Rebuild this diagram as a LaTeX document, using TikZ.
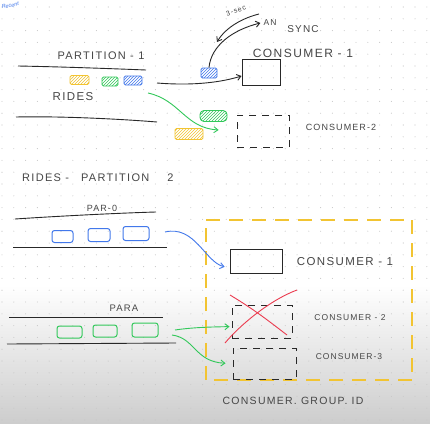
\documentclass[tikz,border=0pt]{standalone}
\usepackage{fontspec}
\setmainfont{Liberation Sans}
\newfontfamily\handfont[LetterSpace=12]{Liberation Sans}
\usetikzlibrary{arrows.meta,patterns}
\definecolor{ink}{RGB}{40,40,40}
\definecolor{textink}{RGB}{70,70,70}
\definecolor{gblue}{RGB}{66,120,235}
\definecolor{ggreen}{RGB}{50,200,90}
\definecolor{gyellow}{RGB}{242,196,50}
\definecolor{gred}{RGB}{235,60,80}
\definecolor{dotc}{RGB}{200,200,200}
\definecolor{bottomgray}{RGB}{205,205,205}
\tikzset{
  lbl/.style={inner sep=0pt, text=textink, font=\handfont\fontsize{#1}{#1}\selectfont},
  lbl/.default=10,
  rule/.style={draw=ink, line width=0.9pt},
  msgbox/.style={draw=#1, line width=0.9pt, rounded corners=1.5pt, pattern=north east lines, pattern color=#1, inner sep=0pt},
  slot/.style={draw=#1, line width=1pt, rounded corners=2.5pt, inner sep=0pt},
  consumerbox/.style={draw=ink, line width=1pt, inner sep=0pt},
  idlebox/.style={draw=ink, line width=0.9pt, dash pattern=on 7pt off 6pt, inner sep=0pt},
  groupline/.style={draw=gyellow, line width=1.2pt, dash pattern=on 14pt off 9pt},
  flow/.style={draw=#1, line width=0.9pt, -{Straight Barb[length=4pt,width=6pt]}},
}
\begin{document}
\begin{tikzpicture}[x=1pt,y=-1pt]
\useasboundingbox (0,0) rectangle (430,423);
% background
\fill[white] (0,0) rectangle (430,423);
\shade[top color=white, bottom color=bottomgray] (0,285) rectangle (430,423);
\foreach \i in {0,...,36} {
  \foreach \j in {0,...,35} {
    \fill[dotc] (2+11.8*\i, 7+11.8*\j) circle (0.55);
  }
}
% top-left note
\node[anchor=west, inner sep=0.5pt, text=gblue, font=\fontsize{5.5}{5.5}\itshape, rotate=10] (note) at (1,7) {Recent};

% ===== Part 1 =====
\node[lbl=11] (p1) at (101,56) {PARTITION - 1};
\draw[rule] (18,66) .. controls (70,67) and (120,69) .. (146,70);
\node[msgbox=gyellow, minimum width=19pt, minimum height=9pt] (y1) at (79.5,80) {};
\node[msgbox=ggreen, minimum width=16pt, minimum height=9pt] (g1) at (110,81.5) {};
\node[msgbox=gblue, minimum width=18pt, minimum height=9pt] (b1) at (133,80.5) {};
\node[lbl=11.5] (rides) at (73,97) {RIDES};
\draw[rule] (16,117) .. controls (60,116) and (120,119) .. (157,122);

\coordinate (s1) at (157,83);
\node[consumerbox, minimum width=38pt, minimum height=26pt] (c1) at (261,72) {};
\draw[flow=ink] (s1) .. controls (195,86) and (222,82) .. ([yshift=-4pt]c1.west);
\node[msgbox=gblue, minimum width=16pt, minimum height=10pt] (b2) at (209,73) {};
\node[lbl=8.5] (an) at (270,23) {AN};
\node[lbl=10] (sync) at (303,29) {SYNC};
\draw[flow=ink] (b2.north) .. controls (211,46) and (232,30) .. ([xshift=-3pt]an.west);
\coordinate (q1) at (259,14);
\coordinate (q2) at (217,42);
\draw[flow=ink] (q1) .. controls (243,18) and (226,27) .. (q2);
\node[lbl=7, rotate=20] (sec) at (236,10.5) {3-sec};
\node[lbl=12] (c1l) at (303,53) {CONSUMER - 1};

\node[msgbox=ggreen, minimum width=27pt, minimum height=11pt, rounded corners=4pt] (g2) at (213.5,116) {};
\node[msgbox=gyellow, minimum width=28pt, minimum height=11pt] (y2) at (189,134) {};
\node[idlebox, minimum width=52pt, minimum height=32pt] (c2) at (263,131) {};
\node[lbl=9] (c2l) at (341,127) {CONSUMER-2};
\coordinate (gs) at (148,93);
\draw[flow=ggreen] (gs) .. controls (180,100) and (185,128) .. (c2.west) [shorten >=18pt];

% ===== Part 2 =====
\node[lbl=11, anchor=west] (p2) at (22,178) {RIDES -\hspace{12pt}PARTITION\hspace{18pt}2};
\node[lbl=9] (par0) at (102,208) {PAR-0};
\draw[rule] (15,219) .. controls (60,216) and (120,213) .. (156,212);
\node[slot=gblue, minimum width=21pt, minimum height=12pt] (bb1) at (62.5,236.5) {};
\node[slot=gblue, minimum width=22pt, minimum height=13pt] (bb2) at (99,235) {};
\node[slot=gblue, minimum width=26pt, minimum height=14pt] (bb3) at (136,233.5) {};
\draw[rule] (13,247) -- (167,247);

% consumer group boundary
\draw[groupline] (206,220) -- (412,220);
\draw[groupline] (412,220) -- (412,380);
\draw[groupline] (412,380) -- (206,380);
\draw[groupline] (206,380) -- (206,220);

\node[consumerbox, minimum width=52pt, minimum height=24pt] (c1b) at (256,261) {};
\node[lbl=11.5] (c1bl) at (345,262) {CONSUMER - 1};
\coordinate (bs) at (165,232);
\draw[flow=gblue] (bs) .. controls (195,225) and (205,262) .. ([yshift=-7pt]c1b.west) [shorten >=5pt];

\node[lbl=9.5] (para) at (124,308) {PARA};
\draw[rule] (9,317) -- (163,317);
\node[slot=ggreen, minimum width=25pt, minimum height=12pt] (gg1) at (69.5,332) {};
\node[slot=ggreen, minimum width=24pt, minimum height=12pt] (gg2) at (105,331) {};
\node[slot=ggreen, minimum width=26pt, minimum height=14pt] (gg3) at (145,330) {};
\draw[rule] (7,344) -- (176,343);

\node[idlebox, minimum width=60pt, minimum height=33pt] (c2b) at (262,321.5) {};
\draw[gred, line width=0.9pt] (230,295) .. controls (255,310) and (270,322) .. (287,335);
\draw[gred, line width=0.9pt] (225,343) .. controls (240,325) and (270,300) .. (297,290);
\node[lbl=8.5] (c2bl) at (350,318) {CONSUMER - 2};
\node[idlebox, minimum width=63pt, minimum height=31pt] (c3b) at (264.5,363.5) {};
\node[lbl=8.5] (c3bl) at (349,357) {CONSUMER-3};

\coordinate (gs1) at (175,330);
\coordinate (gs2) at (172,335);
\draw[flow=ggreen] (gs1) .. controls (195,327) and (215,327) .. ([yshift=-5pt]c2b.west) [shorten >=2pt];
\draw[flow=ggreen] (gs2) .. controls (195,338) and (195,362) .. (c3b.west) [shorten >=7pt];

\node[lbl=10.5] (gid) at (293,401) {CONSUMER. GROUP. ID};
\end{tikzpicture}
\end{document}
